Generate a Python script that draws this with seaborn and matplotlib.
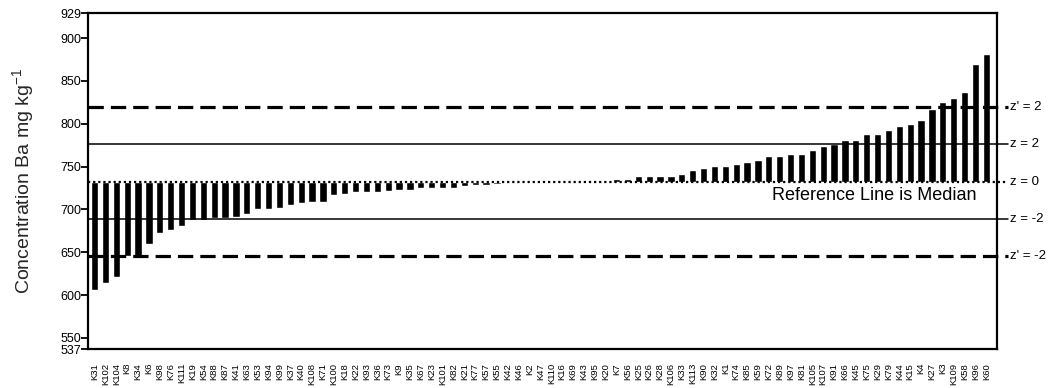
import numpy as np
import matplotlib
matplotlib.use("Agg")
import matplotlib.pyplot as plt
import matplotlib.transforms as mtransforms
import seaborn as sns

# sample ids, sorted by concentration (as in the chart)
samples = ['K31', 'K102', 'K104', 'K8', 'K34', 'K6', 'K98', 'K76', 'K111', 'K19',
           'K54', 'K88', 'K87', 'K41', 'K63', 'K53', 'K94', 'K99', 'K37', 'K40',
           'K108', 'K71', 'K100', 'K18', 'K22', 'K93', 'K36', 'K73', 'K9', 'K35',
           'K67', 'K23', 'K101', 'K82', 'K21', 'K77', 'K57', 'K55', 'K42', 'K46',
           'K2', 'K47', 'K110', 'K16', 'K69', 'K43', 'K95', 'K20', 'K7', 'K56',
           'K25', 'K26', 'K28', 'K106', 'K33', 'K113', 'K90', 'K32', 'K1', 'K74',
           'K85', 'K59', 'K72', 'K89', 'K97', 'K81', 'K105', 'K107', 'K91', 'K66',
           'K45', 'K75', 'K29', 'K79', 'K44', 'K15', 'K4', 'K27', 'K3', 'K109',
           'K58', 'K96', 'K60']

# Ba concentration, mg/kg
ba = [606, 613.5, 620.5, 646, 646, 660, 672, 676, 681, 687.5,
      688, 690.5, 690.5, 691.5, 695, 700, 700, 702, 705, 707,
      709, 709, 716.5, 718.5, 720.5, 720.5, 720.5, 721, 723, 723,
      725.5, 725.5, 725.5, 725.5, 727.5, 728, 729, 730, 730.5, 731,
      731.5, 732, 732.5, 732.5, 733, 733, 733, 733.5, 736, 736,
      739, 739, 739, 739, 741, 746, 748, 750.5, 750.5, 753,
      755, 757.5, 762, 762, 764.5, 764.5, 769, 774, 776, 781,
      781, 787.5, 787.5, 792.5, 797, 799.5, 804, 817.5, 825, 829.5,
      836.5, 869.5, 881]

median_ba = np.median(ba)
z_upper, z_lower = 776, 689        # z = +/-2 (solid)
zmod_upper, zmod_lower = 820, 645  # z' = +/-2 (dashed)
y_ticks = [537, 550, 600, 650, 700, 750, 800, 850, 900, 929]

sns.set_theme(style="white")
plt.rcParams['font.family'] = ['Liberation Sans', 'DejaVu Sans']
plt.rcParams['mathtext.default'] = 'regular'

fig, ax = plt.subplots(figsize=(10.48, 3.88), dpi=100)
fig.subplots_adjust(left=0.084, right=0.951, top=0.966, bottom=0.1005)

heights = [v - median_ba for v in ba]
sns.barplot(x=samples, y=heights, bottom=median_ba, color='black',
            saturation=1, width=0.66, ax=ax)

ax.set_xlim(-0.6, len(samples) - 0.05)
ax.set_ylim(537, 929)
ax.set_yticks(y_ticks)
ax.tick_params(axis='y', left=True, length=5, width=1.3, direction='out',
               pad=0, labelsize=9, colors='black')
ax.tick_params(axis='x', bottom=False, labelsize=6.8, rotation=90, pad=4,
               colors='black')
for s in ax.spines.values():
    s.set_color('black')
    s.set_linewidth(1.6)

ax.set_xlabel('')
ax.set_ylabel('Concentration Ba mg kg$^{-1}$', fontsize=14, labelpad=17)

trans = mtransforms.blended_transform_factory(ax.transAxes, ax.transData)
lines = [
    (zmod_upper, dict(lw=2.3, dashes=(4.8, 2.2)), "z' = 2"),
    (z_upper, dict(lw=1.1, ls='-'), 'z = 2'),
    (median_ba, dict(lw=1.6, dashes=(1, 1.3)), 'z = 0'),
    (z_lower, dict(lw=1.1, ls='-'), 'z = -2'),
    (zmod_lower, dict(lw=2.3, dashes=(4.8, 2.2)), "z' = -2"),
]
for yv, style, lab in lines:
    ax.plot([0, 1.012], [yv, yv], transform=trans, clip_on=False,
            color='black', zorder=5, **style)
    ax.text(1.0145, yv, lab, transform=trans, ha='left', va='center',
            fontsize=9.5, color='black')

ax.text(0.978, median_ba - 16, 'Reference Line is Median', transform=trans,
        ha='right', va='center', fontsize=13, color='black')

plt.savefig('out.png', dpi=100)
